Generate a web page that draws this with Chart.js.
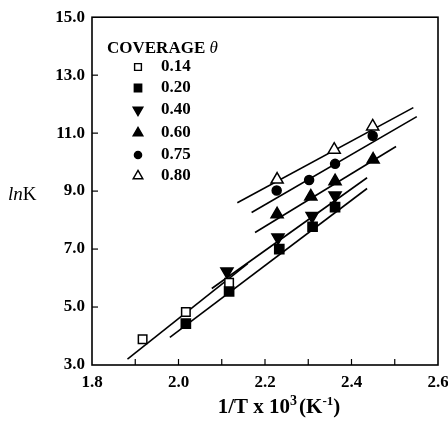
<!DOCTYPE html>
<html>
<head>
<meta charset="utf-8">
<script src="https://cdn.jsdelivr.net/npm/chart.js@4.4.1/dist/chart.umd.min.js"></script>
<style>
  html, body { margin: 0; padding: 0; background: #fff; }
  #wrap { width: 448px; height: 423px; }
</style>
</head>
<body>
<div id="wrap"><canvas id="lnkChart" width="448" height="423"></canvas></div>
<script>
// axis ticks
const xMajorTicks = [1.8, 2.0, 2.2, 2.4, 2.6];
const xMinorTicks = [1.9, 2.1, 2.3, 2.5];
const yTicks = [3, 5, 7, 9, 11, 13, 15];

// measured points, per coverage
const coverageLabels = ['0.14', '0.20', '0.40', '0.60', '0.75', '0.80'];
const cov014X = [1.917, 2.017, 2.117];
const cov014Y = [3.89, 4.83, 5.84];
const cov020X = [2.017, 2.117, 2.233, 2.310, 2.362];
const cov020Y = [4.43, 5.54, 7.00, 7.77, 8.45];
const cov040X = [2.112, 2.230, 2.309, 2.362];
const cov040Y = [6.23, 7.40, 8.14, 8.85];
const cov060X = [2.228, 2.306, 2.362, 2.450];
const cov060Y = [8.20, 8.81, 9.34, 10.09];
const cov075X = [2.227, 2.302, 2.362, 2.449];
const cov075Y = [9.02, 9.38, 9.94, 10.91];
const cov080X = [2.228, 2.360, 2.449];
const cov080Y = [9.40, 10.43, 11.23];

// fitted straight lines (end points)
const fit014X = [1.882, 2.160];
const fit014Y = [3.20, 6.50];
const fit020X = [1.980, 2.436];
const fit020Y = [3.95, 9.09];
const fit040X = [2.077, 2.436];
const fit040Y = [5.64, 9.46];
const fit060X = [2.177, 2.503];
const fit060Y = [7.57, 10.54];
const fit075X = [2.169, 2.551];
const fit075Y = [8.26, 11.57];
const fit080X = [2.136, 2.543];
const fit080Y = [8.60, 11.88];

const pts = (xs, ys) => xs.map((x, i) => ({ x: x, y: ys[i] }));

const serif = "'Liberation Serif', 'DejaVu Serif', serif";

// marker style for each coverage (same order as coverageLabels)
const markers = [
    { pointStyle: 'rect', radius: 6, rotation: 0, fill: '#fff' },
    { pointStyle: 'rect', radius: 6.5, rotation: 0, fill: '#000' },
    { pointStyle: 'triangle', radius: 7, rotation: 180, fill: '#000' },
    { pointStyle: 'triangle', radius: 7, rotation: 0, fill: '#000' },
    { pointStyle: 'circle', radius: 4.5, rotation: 0, fill: '#000' },
    { pointStyle: 'triangle', radius: 7, rotation: 0, fill: '#fff' }
];

function pointSet(label, xs, ys, m) {
    return {
        label: label,
        data: pts(xs, ys),
        showLine: false,
        pointStyle: m.pointStyle,
        pointRadius: m.radius,
        rotation: m.rotation,
        pointBackgroundColor: m.fill,
        pointBorderColor: '#000',
        pointBorderWidth: 1.5,
        order: 1
    };
}

function fitLine(xs, ys) {
    return {
        label: 'fit',
        data: pts(xs, ys),
        showLine: true,
        borderColor: '#000',
        borderWidth: 1.6,
        pointRadius: 0,
        order: 2
    };
}

// frame, inward ticks, legend and axis titles
const decorations = {
    id: 'decorations',
    afterDraw(chart) {
        const ctx = chart.ctx;
        const a = chart.chartArea;
        const xs = chart.scales.x, ys = chart.scales.y;
        ctx.save();
        ctx.strokeStyle = '#000';
        ctx.lineWidth = 1.6;
        ctx.strokeRect(a.left, a.top, a.right - a.left, a.bottom - a.top);

        ctx.lineWidth = 1.2;
        yTicks.slice(1, -1).forEach(v => {
            const y = ys.getPixelForValue(v);
            ctx.beginPath(); ctx.moveTo(a.left, y); ctx.lineTo(a.left + 6, y); ctx.stroke();
        });
        xMajorTicks.concat(xMinorTicks).forEach(v => {
            if (v <= 1.8 || v >= 2.6) return;
            const x = xs.getPixelForValue(v);
            ctx.beginPath(); ctx.moveTo(x, a.bottom); ctx.lineTo(x, a.bottom - 6); ctx.stroke();
        });

        // legend
        ctx.fillStyle = '#000';
        ctx.textBaseline = 'alphabetic';
        ctx.textAlign = 'left';
        ctx.font = 'bold 17px ' + serif;
        ctx.fillText('COVERAGE ', 107, 53);
        const w = ctx.measureText('COVERAGE ').width;
        ctx.font = 'italic 17px ' + serif;
        ctx.fillText('\u03B8', 107 + w, 53);

        const rows = [67, 88, 110, 133, 155, 176];
        coverageLabels.forEach((lab, i) => {
            const m = markers[i];
            ctx.fillStyle = m.fill;
            ctx.strokeStyle = '#000';
            ctx.lineWidth = 1.4;
            Chart.helpers.drawPoint(ctx, {
                pointStyle: m.pointStyle,
                radius: m.radius * 0.8,
                rotation: m.rotation,
                borderWidth: 1.4
            }, 138, rows[i]);
            ctx.fillStyle = '#000';
            ctx.font = 'bold 17px ' + serif;
            ctx.textBaseline = 'middle';
            ctx.fillText(lab, 161, rows[i]);
        });

        // y title: lnK
        ctx.textBaseline = 'middle';
        ctx.font = 'italic 19px ' + serif;
        ctx.fillText('ln', 8, 195);
        const lw = ctx.measureText('ln').width;
        ctx.font = '19px ' + serif;
        ctx.fillText('K', 8 + lw, 195);

        // x title: 1/T x 10^3 (K^-1), centred near x = 279
        ctx.textBaseline = 'alphabetic';
        const base = 413;
        const parts = [
            ['1/T x 10', 21, 0],
            ['3', 14, -8],
            ['(K', 21, 0],
            ['-1', 13, -8],
            [')', 21, 0]
        ];
        let total = 0;
        parts.forEach(p => {
            ctx.font = 'bold ' + p[1] + 'px ' + serif;
            total += ctx.measureText(p[0]).width + (p[0] === '3' ? 2 : 0);
        });
        let x = 279 - total / 2;
        parts.forEach(p => {
            ctx.font = 'bold ' + p[1] + 'px ' + serif;
            ctx.fillText(p[0], x, base + p[2]);
            x += ctx.measureText(p[0]).width + (p[0] === '3' ? 2 : 0);
        });
        ctx.restore();
    }
};

const ctx = document.getElementById('lnkChart').getContext('2d');
new Chart(ctx, {
    type: 'scatter',
    data: {
        datasets: [
            fitLine(fit014X, fit014Y),
            fitLine(fit020X, fit020Y),
            fitLine(fit040X, fit040Y),
            fitLine(fit060X, fit060Y),
            fitLine(fit075X, fit075Y),
            fitLine(fit080X, fit080Y),
            pointSet(coverageLabels[0], cov014X, cov014Y, markers[0]),
            pointSet(coverageLabels[1], cov020X, cov020Y, markers[1]),
            pointSet(coverageLabels[2], cov040X, cov040Y, markers[2]),
            pointSet(coverageLabels[3], cov060X, cov060Y, markers[3]),
            pointSet(coverageLabels[4], cov075X, cov075Y, markers[4]),
            pointSet(coverageLabels[5], cov080X, cov080Y, markers[5])
        ]
    },
    options: {
        responsive: false,
        animation: false,
        layout: { padding: { left: 0, top: 15, right: 10, bottom: 0 } },
        scales: {
            x: {
                type: 'linear',
                min: 1.8,
                max: 2.6,
                grid: { display: false, drawTicks: false },
                border: { display: false },
                afterBuildTicks: scale => {
                    scale.ticks = xMajorTicks.map(v => ({ value: v }));
                },
                afterFit: scale => {
                    scale.height = 58;
                    scale.paddingLeft = 0;
                    scale.paddingRight = 0;
                },
                ticks: {
                    padding: 7,
                    color: '#000',
                    font: { family: serif, size: 17, weight: 'bold' },
                    callback: v => Number(v).toFixed(1)
                }
            },
            y: {
                type: 'linear',
                min: 3,
                max: 15,
                grid: { display: false, drawTicks: false },
                border: { display: false },
                afterBuildTicks: scale => {
                    scale.ticks = yTicks.map(v => ({ value: v }));
                },
                afterFit: scale => {
                    scale.width = 92;
                },
                ticks: {
                    padding: 7,
                    color: '#000',
                    font: { family: serif, size: 17, weight: 'bold' },
                    callback: v => Number(v).toFixed(1)
                }
            }
        },
        plugins: {
            legend: { display: false },
            tooltip: { enabled: false }
        }
    },
    plugins: [decorations]
});
</script>
</body>
</html>
